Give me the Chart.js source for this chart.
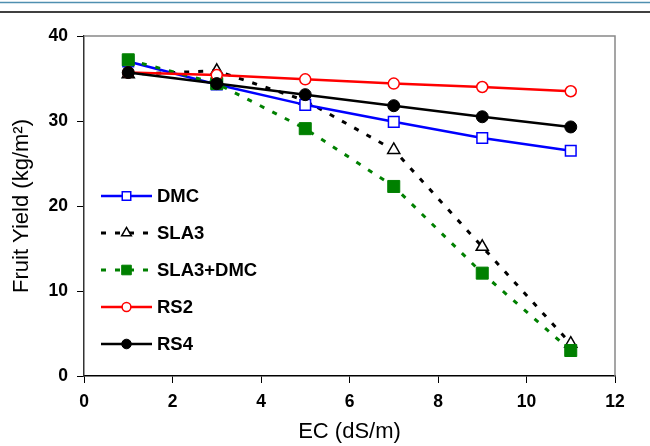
<!DOCTYPE html>
<html>
<head>
<meta charset="utf-8">
<script src="https://cdn.jsdelivr.net/npm/chart.js@4"></script>
<style>
  html, body { margin: 0; padding: 0; background: #fff; }
  #wrap { width: 650px; height: 446px; position: relative; }
</style>
</head>
<body>
<div id="wrap"><canvas id="chart" width="650" height="446"></canvas></div>
<script>
// EC levels (dS/m)
const ec = [1, 3, 5, 7, 9, 11];

// fruit yield (kg/m2)
const dmc     = [37.0, 34.3, 31.9, 29.9, 28.0, 26.5];
const sla3    = [35.5, 35.9, 32.4, 26.6, 15.2, 3.8];
const sla3dmc = [37.2, 34.4, 29.1, 22.3, 12.1, 3.0];
const rs2     = [35.7, 35.4, 34.9, 34.4, 34.0, 33.5];
const rs4     = [35.7, 34.4, 33.1, 31.8, 30.5, 29.3];

const seriesNames = ['DMC', 'SLA3', 'SLA3+DMC', 'RS2', 'RS4'];
const xTicks = [0, 2, 4, 6, 8, 10, 12];
const yTicks = [0, 10, 20, 30, 40];

const toPoints = (vals) => vals.map((v, i) => ({ x: ec[i], y: v }));

// order: lower number is drawn on top
const datasets = [
    {
        label: seriesNames[0], data: toPoints(dmc),
        borderColor: '#0000ff', borderWidth: 2.5,
        pointStyle: 'rect', pointRadius: 7.5, pointBorderWidth: 1.5,
        pointBackgroundColor: '#ffffff', pointBorderColor: '#0000ff', order: 4
    },
    {
        label: seriesNames[1], data: toPoints(sla3),
        borderColor: '#000000', borderWidth: 3, borderDash: [5, 9],
        pointStyle: 'triangle', pointRadius: 7, pointBorderWidth: 1.5,
        pointBackgroundColor: '#ffffff', pointBorderColor: '#000000', order: 5
    },
    {
        label: seriesNames[2], data: toPoints(sla3dmc),
        borderColor: '#008000', borderWidth: 3, borderDash: [5, 9],
        pointStyle: 'rect', pointRadius: 8.5, pointBorderWidth: 1,
        pointBackgroundColor: '#008000', pointBorderColor: '#008000', order: 3
    },
    {
        label: seriesNames[3], data: toPoints(rs2),
        borderColor: '#ff0000', borderWidth: 2.5,
        pointStyle: 'circle', pointRadius: 5.5, pointBorderWidth: 1.5,
        pointBackgroundColor: '#ffffff', pointBorderColor: '#ff0000', order: 2
    },
    {
        label: seriesNames[4], data: toPoints(rs4),
        borderColor: '#000000', borderWidth: 2.5,
        pointStyle: 'circle', pointRadius: 6, pointBorderWidth: 1,
        pointBackgroundColor: '#000000', pointBorderColor: '#000000', order: 1
    }
];

// slide decoration lines at the top of the picture
const topLines = {
    id: 'topLines',
    beforeDraw(chart) {
        const ctx = chart.ctx;
        ctx.save();
        ctx.strokeStyle = '#4f8fb0';
        ctx.lineWidth = 1.5;
        ctx.beginPath(); ctx.moveTo(0, 2.5); ctx.lineTo(650, 2.5); ctx.stroke();
        ctx.strokeStyle = '#000000';
        ctx.lineWidth = 1.5;
        ctx.beginPath(); ctx.moveTo(0, 12); ctx.lineTo(650, 12); ctx.stroke();
        ctx.restore();
    }
};

// gray frame on top and right of the plot area
const frame = {
    id: 'frame',
    beforeDatasetsDraw(chart) {
        const { ctx, chartArea: a } = chart;
        ctx.save();
        ctx.strokeStyle = '#888888';
        ctx.lineWidth = 1.5;
        ctx.beginPath();
        ctx.moveTo(a.left, a.top);
        ctx.lineTo(a.right, a.top);
        ctx.lineTo(a.right, a.bottom);
        ctx.stroke();
        ctx.restore();
    }
};

// legend with line + marker, drawn inside the plot
const lineLegend = {
    id: 'lineLegend',
    afterDatasetsDraw(chart) {
        const ctx = chart.ctx;
        const x0 = 101, x1 = 152, top = 196, step = 37;
        chart.data.datasets.forEach((ds, i) => {
            const y = top + i * step;
            ctx.save();
            ctx.strokeStyle = ds.borderColor;
            ctx.lineWidth = ds.borderWidth;
            ctx.setLineDash(ds.borderDash || []);
            ctx.beginPath(); ctx.moveTo(x0, y); ctx.lineTo(x1, y); ctx.stroke();
            ctx.setLineDash([]);
            ctx.fillStyle = ds.pointBackgroundColor;
            ctx.strokeStyle = ds.pointBorderColor;
            ctx.lineWidth = ds.pointBorderWidth;
            Chart.helpers.drawPoint(ctx, {
                pointStyle: ds.pointStyle,
                radius: ds.pointRadius * 0.8,
                rotation: 0,
                borderWidth: ds.pointBorderWidth
            }, (x0 + x1) / 2, y);
            ctx.fillStyle = '#000000';
            ctx.font = 'bold 18.5px "Liberation Sans", Arial, sans-serif';
            ctx.textBaseline = 'middle';
            ctx.fillText(ds.label, 157, y + 1);
            ctx.restore();
        });
    }
};

const tickFont = { family: '"Liberation Sans", Arial, sans-serif', size: 17.5, weight: 'bold' };
const titleFont = { family: '"Liberation Sans", Arial, sans-serif', size: 22 };

new Chart(document.getElementById('chart'), {
    type: 'scatter',
    data: { datasets: datasets.map(d => Object.assign({ showLine: true, tension: 0 }, d)) },
    options: {
        responsive: false,
        animation: false,
        devicePixelRatio: 1,
        layout: { padding: { left: 0, right: 35, top: 36, bottom: 0 } },
        plugins: { legend: { display: false }, tooltip: { enabled: false } },
        scales: {
            x: {
                type: 'linear', min: 0, max: 12,
                afterBuildTicks: (s) => { s.ticks = xTicks.map(v => ({ value: v })); },
                afterFit: (s) => { s.height = 70; },
                grid: { drawOnChartArea: false, color: '#000', tickLength: 7 },
                border: { color: '#000', width: 1.5 },
                ticks: { font: tickFont, color: '#000', padding: 9, maxRotation: 0 },
                title: { display: true, text: 'EC (dS/m)', font: titleFont, color: '#000', padding: { top: 0, bottom: 1 } }
            },
            y: {
                type: 'linear', min: 0, max: 40,
                afterBuildTicks: (s) => { s.ticks = yTicks.map(v => ({ value: v })); },
                afterFit: (s) => { s.width = 84; },
                grid: { drawOnChartArea: false, color: '#000', tickLength: 7 },
                border: { color: '#333', width: 1.5 },
                ticks: { font: tickFont, color: '#000', padding: 9 },
                title: { display: true, text: 'Fruit Yield (kg/m²)', font: titleFont, color: '#000', padding: { top: 9, bottom: 0 } }
            }
        }
    },
    plugins: [topLines, frame, lineLegend]
});
</script>
</body>
</html>
